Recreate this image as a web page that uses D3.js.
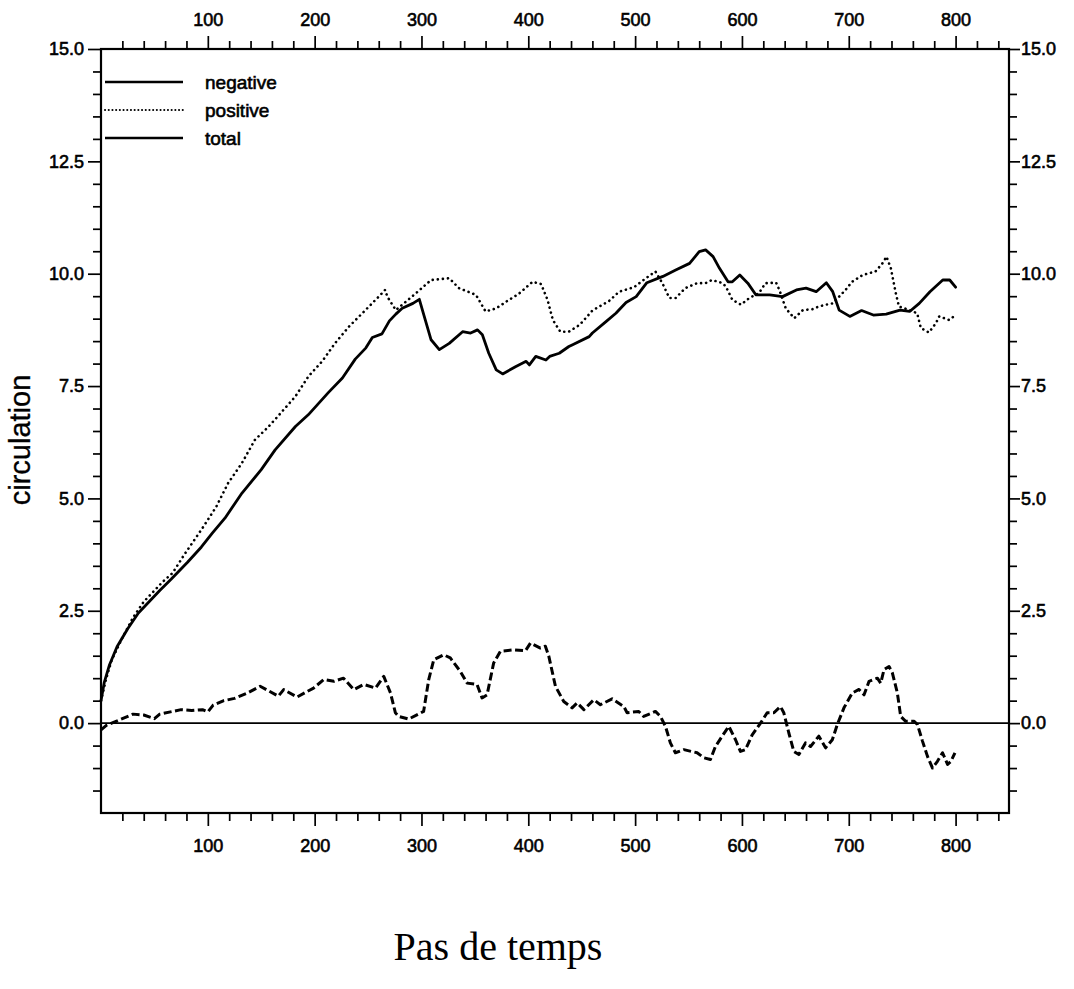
<!DOCTYPE html>
<html><head><meta charset="utf-8">
<script src="https://cdn.jsdelivr.net/npm/d3@7"></script>
<style>
html,body{margin:0;padding:0;background:#fff;}
svg{display:block;}
.ax text{font-family:"Liberation Sans",Arial,sans-serif;font-size:18px;fill:#000;stroke:#000;stroke-width:0.6px;}
.ax path{display:none;}
.ax line{stroke:#000;stroke-width:1.7px;}
</style></head>
<body><svg id="c" width="1074" height="989"></svg>
<script>
// ---- data ----
const xMajorTicks = [100,200,300,400,500,600,700,800];
const yMajorTicks = [0,2.5,5,7.5,10,12.5,15];
const seriesNames = ["negative","positive","total"];

const negX = [0,3,8,15,25,35,45,55,65.6,81,94,104,116,132,150,163,182,194,213,226,238,248,254,263,270,276,282,292,298,302.6,309,316.7,326,338.5,346,352.5,357,363,370,376,388,398,401,407,416.5,420,429,438,441.5,457,460,473,482,491.5,501,511,526,538,551,560,566,573,579,587,591,598,605.5,613,626,638,651,660,669.5,679,685,691,701,712,723,735,748,757,766,776,788,794.5,800];
const negY = [0.5,0.9,1.3,1.7,2.1,2.45,2.7,2.95,3.2,3.58,3.92,4.22,4.56,5.12,5.64,6.08,6.6,6.86,7.36,7.68,8.1,8.35,8.58,8.66,8.95,9.1,9.23,9.34,9.43,9.05,8.53,8.31,8.45,8.71,8.68,8.75,8.64,8.23,7.86,7.77,7.93,8.05,7.97,8.16,8.08,8.16,8.23,8.38,8.42,8.6,8.68,8.94,9.12,9.36,9.49,9.8,9.94,10.08,10.23,10.49,10.53,10.38,10.12,9.82,9.82,9.97,9.79,9.53,9.53,9.49,9.64,9.68,9.6,9.8,9.6,9.19,9.05,9.18,9.08,9.1,9.19,9.16,9.34,9.6,9.86,9.86,9.7];

const posX = [0,5,10,20,30,40,50,58,67,78,95,108,119,132,144,157,169,182,194,207,219,232,248,260,266,268,276,282,295,309,318,326,335,351,360,370,382,391,404,412,418,423,430,438,448,460,476,485,499,509,519,525.5,532,538,547,558,566,572,582,585,591,599,607,616,622,632,635,641,649,657,666,672,678.5,685,691,697,703,713,725,731.5,735.3,739.4,744,747,757,764,767.5,775,781.6,784.7,794,801];
const posY = [0.5,1.0,1.4,1.9,2.35,2.7,2.95,3.15,3.34,3.75,4.34,4.82,5.34,5.79,6.3,6.6,6.92,7.27,7.71,8.05,8.45,8.82,9.2,9.49,9.64,9.49,9.19,9.31,9.57,9.86,9.88,9.9,9.68,9.53,9.16,9.23,9.42,9.55,9.82,9.77,9.42,8.97,8.71,8.71,8.86,9.18,9.4,9.6,9.7,9.88,10.05,9.79,9.46,9.46,9.68,9.79,9.79,9.86,9.79,9.71,9.42,9.31,9.46,9.57,9.79,9.8,9.64,9.23,9.01,9.19,9.21,9.27,9.31,9.34,9.49,9.64,9.82,9.97,10.05,10.23,10.38,10.12,9.57,9.27,9.19,9.12,8.79,8.69,8.9,9.05,8.97,9.1];

const totX = [0,5,10,20,30,40,50,55,65,75,85,95,100,105,115,125,130,137,149,166,171,183.5,199,208.5,218,227,236.6,246,257,264.7,271,275.6,278.7,288,302,306.8,311.5,320.9,327,336.4,342.7,352,356.7,361.4,367.6,373.9,386.4,397.3,402,411.3,416,419.2,425.4,433.2,441,445.7,452,461.3,467.5,478.5,489.4,492.5,503.4,508,519,523.7,528.4,533,537.7,545.6,558,564.3,570.5,575.2,581.5,587.7,594,598.6,603.3,609.6,617.4,623.6,629.9,636,639.2,643.9,648.6,653.3,659.5,664.2,672,678.3,684.6,689.3,695.5,703.3,709.6,714.3,719,726.8,729.9,733,737.7,740.8,745.5,748.6,753.3,761.2,764.3,769,773.7,778.4,783,787.8,792.5,795.6,799.4];
const totY = [-0.15,-0.05,0.0,0.1,0.2,0.18,0.1,0.2,0.25,0.3,0.28,0.3,0.25,0.4,0.5,0.55,0.6,0.67,0.82,0.6,0.745,0.58,0.78,0.97,0.93,1.0,0.745,0.86,0.78,1.04,0.67,0.23,0.15,0.09,0.26,0.97,1.41,1.52,1.45,1.15,0.89,0.86,0.56,0.63,1.34,1.6,1.63,1.61,1.78,1.67,1.71,1.49,0.82,0.48,0.34,0.45,0.3,0.52,0.41,0.54,0.37,0.23,0.26,0.15,0.26,0.15,-0.07,-0.44,-0.66,-0.59,-0.66,-0.77,-0.81,-0.52,-0.29,-0.07,-0.37,-0.63,-0.59,-0.26,0.0,0.23,0.23,0.37,0.23,-0.22,-0.63,-0.7,-0.44,-0.52,-0.29,-0.55,-0.37,-0.03,0.34,0.67,0.75,0.63,0.93,1.0,0.89,1.19,1.26,1.12,0.67,0.15,0.04,0.04,-0.03,-0.4,-0.74,-1.0,-0.85,-0.66,-0.92,-0.85,-0.66];

// ---- layout ----
const L = 101, R = 1009, T = 49, B = 813;
const x = d3.scaleLinear().domain([0,850]).range([L,R]);
const y = d3.scaleLinear().domain([-2,15]).range([B,T]);
const svg = d3.select("#c");

const xMinor = d3.range(1, 43).map(i => i*20);
const yMinor = d3.range(-3, 31).map(i => i/2);
const fmtY = d => d.toFixed(1);
const isMajY = d => yMajorTicks.some(m => Math.abs(m-d)<1e-6);

// bottom
const gb = svg.append("g").attr("class","ax").attr("transform",`translate(0,${B})`)
  .call(d3.axisBottom(x).tickValues(xMinor).tickSizeOuter(0).tickSize(8)
  .tickFormat(d => xMajorTicks.includes(d) ? d : ""));
gb.selectAll(".tick").filter(d => xMajorTicks.includes(d)).select("line").attr("y2", 13);
gb.selectAll("text").attr("dy","0.71em").attr("y", 26);
// top
const gt = svg.append("g").attr("class","ax").attr("transform",`translate(0,${T})`)
  .call(d3.axisTop(x).tickValues(xMinor).tickSizeOuter(0).tickSize(8)
  .tickFormat(d => xMajorTicks.includes(d) ? d : ""));
gt.selectAll(".tick").filter(d => xMajorTicks.includes(d)).select("line").attr("y2", -13);
gt.selectAll("text").attr("y", -23).attr("dy","0");
// left
const gl = svg.append("g").attr("class","ax").attr("transform",`translate(${L},0)`)
  .call(d3.axisLeft(y).tickValues(yMinor).tickSizeOuter(0).tickSize(8)
  .tickFormat(d => isMajY(d) ? fmtY(d) : ""));
gl.selectAll(".tick").filter(isMajY).select("line").attr("x2", -13);
gl.selectAll("text").attr("x", -17);
// right
const gr = svg.append("g").attr("class","ax").attr("transform",`translate(${R},0)`)
  .call(d3.axisRight(y).tickValues(yMinor).tickSizeOuter(0).tickSize(8)
  .tickFormat(d => isMajY(d) ? fmtY(d) : ""));
gr.selectAll(".tick").filter(isMajY).select("line").attr("x2", 11);
gr.selectAll("text").attr("x", 12);

// frame
svg.append("rect").attr("x",L).attr("y",T).attr("width",R-L).attr("height",B-T)
  .attr("fill","none").attr("stroke","#000").attr("stroke-width",2.2);
// zero line
svg.append("line").attr("x1",L).attr("x2",R).attr("y1",y(0)).attr("y2",y(0))
  .attr("stroke","#000").attr("stroke-width",1.8);

// series
const line = d3.line().x(d=>x(d[0])).y(d=>y(d[1])).curve(d3.curveLinear);
const styles = {
  negative: {w:2.8, dash:null, cap:"round"},
  positive: {w:2.6, dash:"0.1,5", cap:"round"},
  total:    {w:3, dash:"8,3.5", cap:"butt"}
};
const data = {
  negative: d3.zip(negX, negY),
  positive: d3.zip(posX, posY),
  total: d3.zip(totX, totY)
};
seriesNames.forEach(n => {
  svg.append("path").datum(data[n]).attr("d", line)
    .attr("fill","none").attr("stroke","#000").attr("stroke-width",styles[n].w)
    .attr("stroke-linejoin","round").attr("stroke-linecap",styles[n].cap)
    .attr("stroke-dasharray",styles[n].dash);
});

// legend
const legY = [82,110,138];
seriesNames.forEach((n,i) => {
  svg.append("line").attr("x1",105).attr("x2",183).attr("y1",legY[i]).attr("y2",legY[i])
    .attr("stroke","#000").attr("stroke-width", n==="positive"?2:2.4)
    .attr("stroke-linecap", n==="positive"?"round":"butt")
    .attr("stroke-dasharray", n==="positive"?"0.1,3.6":null);
  svg.append("text").attr("x",205).attr("y",legY[i]).attr("dy","0.35em")
    .attr("font-family","Liberation Sans, Arial, sans-serif").attr("font-size",19)
    .attr("stroke","#000").attr("stroke-width",0.6)
    .text(n);
});

// axis titles
svg.append("text").attr("transform","translate(30,440) rotate(-90)")
  .attr("text-anchor","middle").attr("font-family","Liberation Sans, Arial, sans-serif")
  .attr("font-size",29).attr("stroke","#000").attr("stroke-width",0.3).text("circulation");
svg.append("text").attr("x",498).attr("y",960).attr("text-anchor","middle")
  .attr("font-family","Liberation Serif, Times New Roman, serif")
  .attr("font-size",40).text("Pas de temps");
</script></body></html>
